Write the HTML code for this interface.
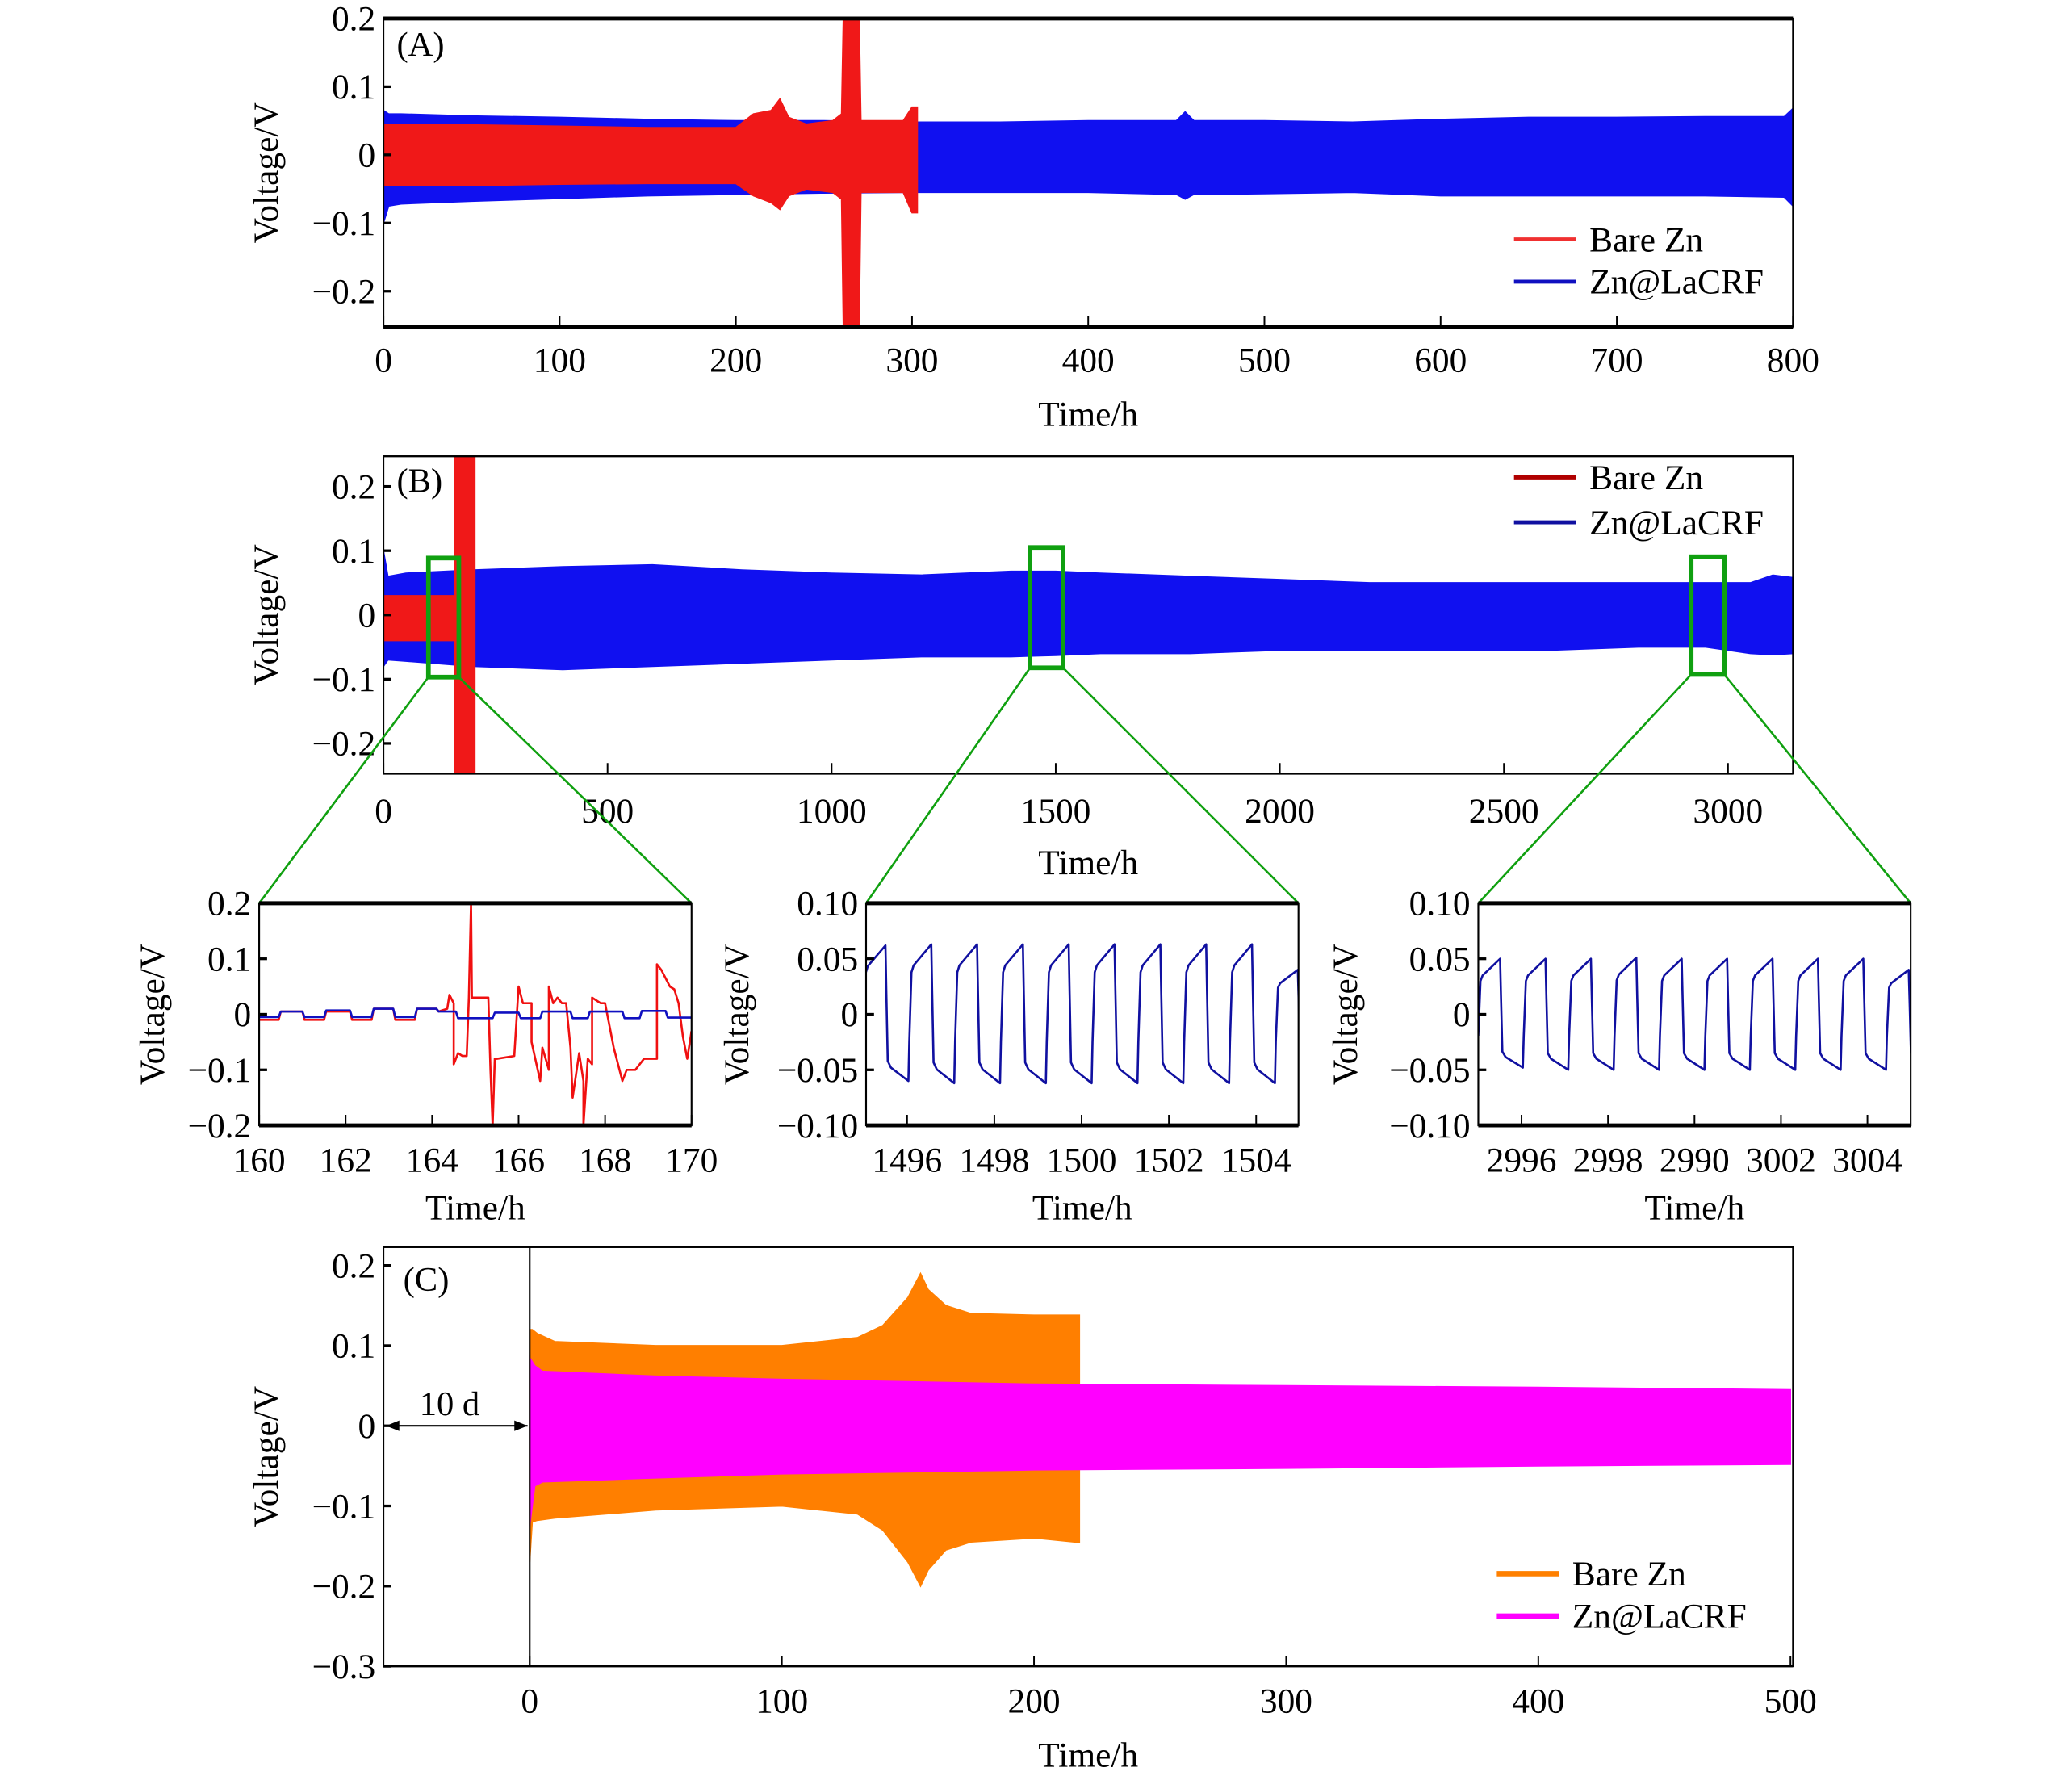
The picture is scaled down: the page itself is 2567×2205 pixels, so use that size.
<!DOCTYPE html>
<html><head><meta charset="utf-8"><style>
html,body{margin:0;padding:0;background:#fff;}
svg{display:block;font-family:"Liberation Serif","DejaVu Serif",serif;}
</style></head><body>
<svg id="fig" width="2567" height="2205" viewBox="0 0 1567 1346" xmlns="http://www.w3.org/2000/svg"></svg>
<script>
// ---------- Panel A data ----------
const aBlueT=[0,3,10,50,100,150,200,250,300,350,400,450,455,460,500,550,600,650,700,750,795,800];
const aBlueHi=[0.065,0.06,0.06,0.057,0.055,0.052,0.05,0.05,0.048,0.048,0.05,0.05,0.063,0.05,0.05,0.048,0.052,0.055,0.055,0.056,0.056,0.068];
const aBlueLo=[-0.1,-0.075,-0.072,-0.068,-0.064,-0.06,-0.058,-0.056,-0.055,-0.055,-0.055,-0.058,-0.065,-0.058,-0.057,-0.055,-0.06,-0.06,-0.06,-0.06,-0.062,-0.075];
const aRedT=[0,50,100,150,200,210,220,225,230,240,255,260,261,270,271,280,295,300,303];
const aRedHi=[0.045,0.044,0.042,0.04,0.04,0.06,0.065,0.082,0.055,0.045,0.05,0.06,0.2,0.2,0.05,0.05,0.05,0.07,0.07];
const aRedLo=[-0.045,-0.045,-0.043,-0.042,-0.042,-0.06,-0.07,-0.08,-0.06,-0.05,-0.055,-0.065,-0.25,-0.25,-0.055,-0.055,-0.055,-0.085,-0.085];
// ---------- Panel B data ----------
const bBlueT=[0,10,50,200,400,600,800,1000,1200,1400,1500,1600,1800,2000,2200,2400,2600,2800,2950,3050,3100,3145];
const bBlueHi=[0.1,0.06,0.065,0.07,0.075,0.078,0.07,0.065,0.062,0.068,0.068,0.065,0.06,0.055,0.05,0.05,0.05,0.05,0.05,0.05,0.062,0.058];
const bBlueLo=[-0.08,-0.07,-0.072,-0.08,-0.085,-0.08,-0.075,-0.07,-0.065,-0.065,-0.063,-0.06,-0.06,-0.055,-0.055,-0.055,-0.055,-0.05,-0.05,-0.06,-0.062,-0.06];
const bRedT=[0,40,100,155,159,159,204,204];
const bRedHi=[0.03,0.03,0.03,0.03,0.03,0.26,0.26,0];
const bRedLo=[-0.04,-0.04,-0.04,-0.04,-0.04,-0.245,-0.245,0];
// ---------- Panel C data ----------
const cOrT=[0,1,3,10,50,100,130,140,150,155,158,165,175,200,216,218];
const cOrHi=[0.12,0.12,0.115,0.105,0.1,0.1,0.11,0.125,0.16,0.19,0.17,0.15,0.14,0.138,0.138,0.138];
const cOrLo=[-0.17,-0.12,-0.118,-0.115,-0.105,-0.1,-0.11,-0.13,-0.17,-0.2,-0.18,-0.155,-0.145,-0.14,-0.145,-0.145];
const cMaT=[0,2,5,50,100,200,300,400,500];
const cMaHi=[0.085,0.075,0.068,0.062,0.058,0.052,0.05,0.048,0.045];
const cMaLo=[-0.125,-0.075,-0.07,-0.065,-0.06,-0.055,-0.053,-0.05,-0.048];
// ---------- Inset data ----------
const i1BlueT=[160,160.45,160.5,161.0,161.05,161.5,161.55,162.1,162.15,162.6,162.65,163.1,163.15,163.6,163.65,164.1,164.15,164.55,164.6,165.4,165.45,166.0,166.05,166.5,166.55,167.2,167.25,167.6,167.65,168.4,168.45,168.8,168.85,169.4,169.45,170];
const i1BlueV=[-0.005,-0.005,0.005,0.005,-0.005,-0.005,0.007,0.007,-0.005,-0.005,0.01,0.01,-0.005,-0.005,0.01,0.01,0.005,0.005,-0.007,-0.007,0.003,0.003,-0.007,-0.007,0.005,0.005,-0.007,-0.007,0.005,0.005,-0.007,-0.007,0.006,0.006,-0.006,-0.006];
const i1RedT=[160,160.45,160.5,161.0,161.05,161.5,161.55,162.1,162.15,162.6,162.65,163.1,163.15,163.6,163.65,164.1,164.15,164.35,164.4,164.5,164.5,164.6,164.7,164.8,164.85,164.9,164.92,165.0,165.3,165.35,165.4,165.45,165.5,165.9,166.0,166.1,166.3,166.3,166.5,166.55,166.7,166.7,166.8,166.9,167.0,167.1,167.2,167.25,167.4,167.5,167.5,167.6,167.7,167.7,167.9,168.0,168.2,168.4,168.5,168.7,168.9,169.2,169.2,169.3,169.5,169.6,169.7,169.8,169.9,170];
const i1RedV=[-0.01,-0.01,0.005,0.005,-0.01,-0.01,0.005,0.005,-0.01,-0.01,0.01,0.01,-0.01,-0.01,0.01,0.01,0.005,0.01,0.035,0.02,-0.09,-0.07,-0.075,-0.075,0.03,0.2,0.03,0.03,0.03,-0.1,-0.2,-0.08,-0.08,-0.075,0.05,0.02,0.02,-0.05,-0.12,-0.06,-0.1,0.05,0.02,0.03,0.02,0.02,-0.06,-0.15,-0.07,-0.12,-0.2,-0.08,-0.09,0.03,0.02,0.02,-0.06,-0.12,-0.1,-0.1,-0.08,-0.08,0.09,0.08,0.05,0.045,0.02,-0.04,-0.08,-0.03];
const i2Start=[1495.0,1496.05,1497.1,1498.15,1499.2,1500.25,1501.3,1502.35,1503.4,1504.45];
const i2Hi=[0.062,0.063,0.063,0.063,0.063,0.063,0.063,0.063,0.063,0.04];
const i2Lo=[-0.06,-0.062,-0.062,-0.062,-0.062,-0.062,-0.062,-0.062,-0.062,-0.062];
const i3Start=[2995.0,2996.05,2997.1,2998.15,2999.2,3000.25,3001.3,3002.35,3003.4,3004.45];
const i3Hi=[0.05,0.05,0.05,0.051,0.05,0.05,0.05,0.05,0.05,0.04];
const i3Lo=[-0.048,-0.05,-0.05,-0.05,-0.05,-0.05,-0.05,-0.05,-0.05,-0.05];

const NS="http://www.w3.org/2000/svg";
const svg=document.getElementById('fig');
function mk(tag,attrs,parent){const e=document.createElementNS(NS,tag);for(const k in attrs)e.setAttribute(k,attrs[k]);(parent||svg).appendChild(e);return e;}
function txt(s,x,y,size,anchor,parent){const t=mk('text',{x:x,y:y,'font-size':size,'text-anchor':anchor||'middle',fill:'#000'},parent);t.textContent=s;return t;}
function scale(d0,d1,r0,r1){return v=>r0+(v-d0)/(d1-d0)*(r1-r0);}

function axes(o){
  const g=mk('g',{});
  
  
  const X=scale(o.x0,o.x1,o.L,o.R),Y=scale(o.y0,o.y1,o.B,o.T);
  const cid='clip-'+o.name;
  const cp=mk('clipPath',{id:cid},g);mk('rect',{x:o.L,y:o.T,width:o.R-o.L,height:o.B-o.T},cp);
  const plot=mk('g',{'clip-path':'url(#'+cid+')'},g);
  const frame=mk('g',{},g);
  mk('rect',{x:o.L,y:o.T,width:o.R-o.L,height:o.B-o.T,fill:'none',stroke:'#000','stroke-width':1.3},frame);
  mk('line',{x1:o.L,x2:o.R,y1:o.T,y2:o.T,stroke:'#000','stroke-width':o.thickTop?3:1.3},frame);
  mk('line',{x1:o.L,x2:o.R,y1:o.B,y2:o.B,stroke:'#000','stroke-width':o.thickTop?3:1.5},frame);
  const xg=mk('g',{},g);
  o.xt.forEach((v,i)=>{const x=X(v);mk('line',{x1:x,x2:x,y1:o.B,y2:o.B-8,stroke:'#000','stroke-width':1.2},xg);
    txt(o.xl[i],x,o.B+o.xlo,o.fs,'middle',xg);});
  const yg=mk('g',{},g);
  o.yt.forEach((v,i)=>{const y=Y(v);mk('line',{x1:o.L,x2:o.L+6,y1:y,y2:y,stroke:'#000','stroke-width':2},yg);
    txt(o.yl[i],o.L-6,y+9,o.fs,'end',yg);});
  const xt=txt('Time/h',(o.L+o.R)/2,o.B+o.xtl,o.fs,'middle',g);
  const yc=o.ylx,ycy=(o.T+o.B)/2;
  const yt=mk('text',{x:yc,y:ycy,'font-size':o.fs,'text-anchor':'middle',transform:'rotate(-90 '+yc+' '+ycy+')'},g);yt.textContent='Voltage/V';
  
  return {X,Y,plot,g};
}
function band(ax,T,H,L,color,name){
  let d='';T.forEach((t,i)=>{d+=(i?'L':'M')+ax.X(t).toFixed(2)+','+ax.Y(H[i]).toFixed(2);});
  for(let i=T.length-1;i>=0;i--)d+='L'+ax.X(T[i]).toFixed(2)+','+ax.Y(L[i]).toFixed(2);
  const p=mk('path',{d:d+'Z',fill:color,stroke:color,'stroke-width':1},ax.plot);
  
  return p;
}
function line(ax,T,V,color,w,name){
  let d='';T.forEach((t,i)=>{d+=(i?'L':'M')+ax.X(t).toFixed(2)+','+ax.Y(V[i]).toFixed(2);});
  const p=mk('path',{d:d,fill:'none',stroke:color,'stroke-width':w,'stroke-linejoin':'round'},ax.plot);
  
  return p;
}
function legend(x,y,label,color,w,name){
  const g=mk('g',{});
  mk('line',{x1:x,x2:x+47,y1:y,y2:y,stroke:color,'stroke-width':w},g);
  txt(label,x+57,y+9,26.5,'start',g);
}
const FS=26.5;
// ---------- Panel A ----------
const A=axes({name:'panel-a',L:290,R:1356,T:14,B:247,x0:0,x1:800,y0:-0.252,y1:0.2,
  xt:[0,100,200,300,400,500,600,700,800],xl:['0','100','200','300','400','500','600','700','800'],
  yt:[-0.2,-0.1,0,0.1,0.2],yl:['\u22120.2','\u22120.1','0','0.1','0.2'],fs:FS,xlo:34,xtl:75,ylx:210,thickTop:true});
band(A,aBlueT,aBlueHi,aBlueLo,'#1010f0','a-zn-lacrf-series');
band(A,aRedT,aRedHi,aRedLo,'#f01818','a-bare-zn-series');
txt('(A)',300,42,26,'start',A.g);
legend(1145,181,'Bare Zn','#f03030',3,'a-legend-bare-zn');
legend(1145,213,'Zn@LaCRF','#1010c0',3,'a-legend-zn-lacrf');
// ---------- Panel B ----------
const B=axes({name:'panel-b',L:290,R:1356,T:345,B:585,x0:0,x1:3145,y0:-0.247,y1:0.247,
  xt:[0,500,1000,1500,2000,2500,3000],xl:['0','500','1000','1500','2000','2500','3000'],
  yt:[-0.2,-0.1,0,0.1,0.2],yl:['\u22120.2','\u22120.1','0','0.1','0.2'],fs:FS,xlo:37,xtl:76,ylx:210,thickTop:false});
band(B,bBlueT,bBlueHi,bBlueLo,'#1010f0','b-zn-lacrf-series');
band(B,bRedT,bRedHi,bRedLo,'#f01818','b-bare-zn-series');
txt('(B)',300,372,26,'start',B.g);
legend(1145,361,'Bare Zn','#b00000',3,'b-legend-bare-zn');
legend(1145,395,'Zn@LaCRF','#1010a0',3,'b-legend-zn-lacrf');
const zg=mk('g',{});
[[324,422,347,512,196,523],[779,414,804,505,655,982],[1279,421,1304,510,1118,1445]].forEach(b=>{
  mk('rect',{x:b[0],y:b[1],width:b[2]-b[0],height:b[3]-b[1],fill:'none',stroke:'#10a010','stroke-width':3.5},zg);
  mk('line',{x1:b[0],y1:b[3],x2:b[4],y2:683,stroke:'#10a010','stroke-width':1.6},zg);
  mk('line',{x1:b[2],y1:b[3],x2:b[5],y2:683,stroke:'#10a010','stroke-width':1.6},zg);
});
// ---------- Insets ----------
const I1=axes({name:'inset-1',L:196,R:523,T:683,B:851,x0:160,x1:170,y0:-0.2,y1:0.2,
  xt:[160,162,164,166,168,170],xl:['160','162','164','166','168','170'],
  yt:[-0.2,-0.1,0,0.1,0.2],yl:['\u22120.2','\u22120.1','0','0.1','0.2'],fs:FS,xlo:35,xtl:71,ylx:124,thickTop:true});
line(I1,i1RedT,i1RedV,'#f01010',1.6,'inset-1-bare-zn');
line(I1,i1BlueT,i1BlueV,'#1010c0',1.6,'inset-1-zn-lacrf');
function cycles(ax,S,H,Lo,end,name){
  const T=[],V=[];
  S.forEach((s,i)=>{const e=(i+1<S.length?S[i+1]:end);const p=(e-s);
    T.push(s,s+0.05,s+0.1,s+0.48*p,s+0.5*p,s+0.53*p,s+0.6*p,e-0.02);
    V.push(Lo[i]*0.4,H[i]*0.6,H[i]*0.7,H[i],H[i]*0.3,Lo[i]*0.7,Lo[i]*0.8,Lo[i]);});
  line(ax,T,V,'#1010a0',1.6,name);
}
const I2=axes({name:'inset-2',L:655,R:982,T:683,B:851,x0:1495.06,x1:1504.97,y0:-0.1,y1:0.1,
  xt:[1496,1498,1500,1502,1504],xl:['1496','1498','1500','1502','1504'],
  yt:[-0.1,-0.05,0,0.05,0.1],yl:['\u22120.10','\u22120.05','0','0.05','0.10'],fs:FS,xlo:35,xtl:71,ylx:566,thickTop:true});
cycles(I2,i2Start,i2Hi,i2Lo,1505.5,'inset-2-zn-lacrf');
const I3=axes({name:'inset-3',L:1118,R:1445,T:683,B:851,x0:2995.0,x1:3005.0,y0:-0.1,y1:0.1,
  xt:[2996,2998,3000,3002,3004],xl:['2996','2998','2990','3002','3004'],
  yt:[-0.1,-0.05,0,0.05,0.1],yl:['\u22120.10','\u22120.05','0','0.05','0.10'],fs:FS,xlo:35,xtl:71,ylx:1026,thickTop:true});
cycles(I3,i3Start,i3Hi,i3Lo,3005.5,'inset-3-zn-lacrf');
// ---------- Panel C ----------
const C=axes({name:'panel-c',L:290,R:1356,T:943,B:1260,x0:-58,x1:501,y0:-0.3,y1:0.223,
  xt:[0,100,200,300,400,500],xl:['0','100','200','300','400','500'],
  yt:[-0.3,-0.2,-0.1,0,0.1,0.2],yl:['\u22120.3','\u22120.2','\u22120.1','0','0.1','0.2'],fs:FS,xlo:35,xtl:76,ylx:210,thickTop:false});
band(C,cOrT,cOrHi,cOrLo,'#ff7f00','c-bare-zn-series');
band(C,cMaT,cMaHi,cMaLo,'#ff00ff','c-zn-lacrf-series');
mk('line',{x1:C.X(0),x2:C.X(0),y1:943,y2:1260,stroke:'#000','stroke-width':1.3},C.g);
const ar=mk('g',{});
const y0=C.Y(0);
mk('line',{x1:292,x2:399,y1:y0,y2:y0,stroke:'#000','stroke-width':1.3},ar);
mk('path',{d:`M292,${y0} l10,-4 l0,8 Z M399,${y0} l-10,-4 l0,8 Z`,fill:'#000'},ar);
txt('10 d',340,y0-8,26,'middle',ar);
txt('(C)',305,976,26,'start',C.g);
legend(1132,1190,'Bare Zn','#ff8000',4,'c-legend-bare-zn');
legend(1132,1222,'Zn@LaCRF','#ff00ff',4,'c-legend-zn-lacrf');
</script>
</body></html>
